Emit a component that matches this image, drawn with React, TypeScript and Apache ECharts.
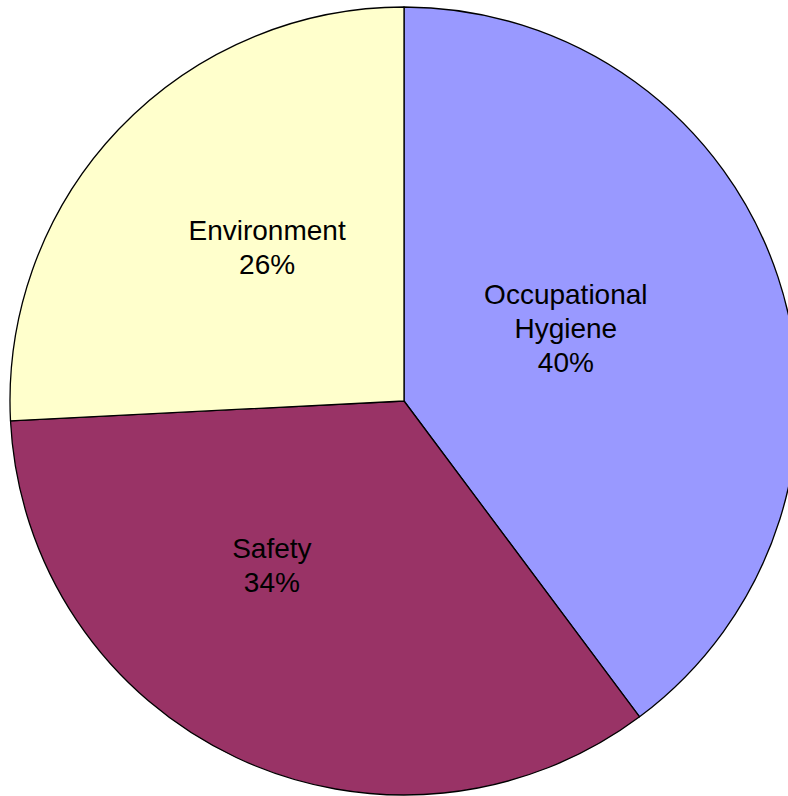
import React, { useEffect, useRef } from "react";
import * as echarts from "echarts";

const categories = ["Occupational\nHygiene", "Safety", "Environment"];
const values = [39.8, 34.4, 25.8];
const colors = ["#9999FF", "#993366", "#FFFFCC"];
const labelShift = [
  [-28, -10],
  [-47, -16],
  [8, -16],
];

export default function App() {
  const ref = useRef<HTMLDivElement>(null);
  useEffect(() => {
    document.body.style.margin = "0";
    const chart = echarts.init(ref.current!, null, { renderer: "svg" });
    chart.setOption({
      animation: false,
      backgroundColor: "#ffffff",
      series: [
        {
          type: "pie",
          center: [404, 401],
          radius: 394,
          startAngle: 90,
          clockwise: true,
          avoidLabelOverlap: false,
          data: categories.map((c, i) => ({
            name: c,
            value: values[i],
            itemStyle: { color: colors[i] },
          })),
          itemStyle: { borderColor: "#000000", borderWidth: 1.3 },
          label: {
            show: true,
            position: "inside",
            formatter: (p: any) => `${p.name}\n${Math.round(p.percent)}%`,
            fontFamily: "Liberation Sans, Arial, sans-serif",
            fontSize: 28,
            lineHeight: 34,
            color: "#000000",
            align: "center",
          },
          labelLine: { show: false },
          labelLayout: (p: any) => ({
            dx: labelShift[p.dataIndex][0],
            dy: labelShift[p.dataIndex][1],
          }),
          emphasis: { disabled: true },
        },
      ],
    });
    return () => chart.dispose();
  }, []);
  return <div ref={ref} style={{ width: 788, height: 796 }} />;
}
